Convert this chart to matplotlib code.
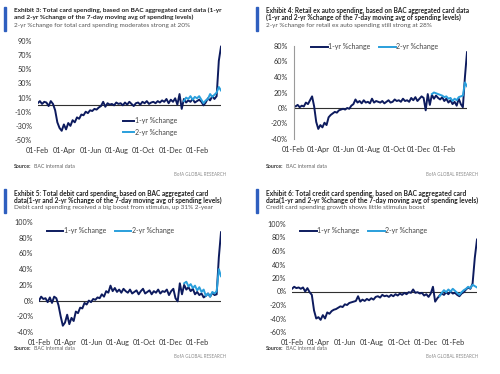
import matplotlib
matplotlib.use('Agg')
import matplotlib.pyplot as plt
import matplotlib.dates as mdates
from matplotlib import font_manager
import pandas as pd

# x categories: one value every 5 days, 01-Feb-2020 .. 27-Mar-2021
dates = pd.date_range('2020-02-01', periods=85, freq='5D')
two_yr_start = 67  # 2-yr series begins 01-Jan-2021

# Exhibit 3: total card spending
total_1yr = [2, 5, 1, 4, 3, -2, 5, 1, -8, -25, -33, -37, -28, -35, -26, -30, -22, -25, -18, -20,
             -14, -15, -10, -12, -8, -9, -6, -7, -4, -2, 4, -3, 2, 0, 1, -1, 3, 1, 2, -1,
             3, 0, 4, 1, -2, 2, 3, 0, 4, 2, 5, 1, 3, 4, 2, 5, 3, 6, 4, 8,
             2, 7, 4, 9, 0, 15, -6, 8, 3, 6, 4, 8, 3, 5, 7, 4, -1, 3, 9, 6,
             12, 8, 12, 62, 82]
total_2yr = [5, 10, 8, 12, 7, 11, 9, 12, 7, 2, 6, 8, 15, 11, 14, 17, 25, 20]

# Exhibit 4: retail ex auto
retail_1yr = [3, 2, 4, 1, 3, 2, 7, 5, 10, 15, 2, -18, -27, -22, -25, -19, -22, -12, -9, -7,
              -5, -6, -3, -2, -1, -2, 0, -1, 3, 5, 11, 7, 9, 6, 10, 7, 8, 6, 12, 7,
              9, 8, 7, 9, 6, 8, 10, 7, 8, 11, 9, 10, 8, 12, 9, 10, 8, 13, 10, 14,
              9, 12, 15, 13, -3, 18, 4, 17, 12, 16, 13, 11, 14, 9, 12, 7, 10, 5, 8, 3,
              12, 5, 1, 40, 72]
retail_2yr = [18, 20, 19, 18, 17, 16, 14, 15, 12, 13, 9, 12, 10, 14, 15, 16, 33, 28]

# Exhibit 5: debit card
debit_1yr = [0, 5, 2, 3, -2, 4, -3, 5, 3, -6, -20, -32, -28, -18, -30, -22, -26, -14, -16, -9,
             -10, -3, -5, 0, -2, 2, 1, 4, 3, 8, 5, 12, 10, 19, 12, 16, 11, 14, 10, 15,
             12, 10, 14, 9, 11, 13, 8, 12, 15, 9, 11, 13, 8, 12, 10, 14, 9, 12, 11, 14,
             7, 12, 15, 3, -1, 22, 8, 20, 14, 17, 12, 15, 8, 11, 7, 9, 4, 6, 9, 5,
             10, 7, 8, 55, 87]
debit_2yr = [22, 24, 18, 21, 16, 19, 13, 17, 11, 14, 6, 9, 5, 11, 9, 12, 40, 31]

# Exhibit 6: credit card
credit_1yr = [4, 7, 5, 6, 4, 6, 0, 5, -1, -5, -28, -40, -38, -42, -35, -40, -31, -33, -29, -27,
              -26, -24, -22, -23, -19, -20, -17, -16, -15, -14, -7, -15, -12, -14, -11, -13, -10, -12, -8, -7,
              -9, -5, -7, -6, -8, -5, -7, -4, -6, -3, -5, -2, -4, -1, -2, 3, -2, -1, -3, -2,
              -6, -4, -8, -3, 7, -15, -10, -6, -3, -5, -1, -4, 0, -3, -2, -5, -7, -3, -1, 3,
              6, 4, 12, 50, 77]
credit_2yr = [-7, -2, 2, -1, 3, 0, 4, 1, -2, -5, -1, 2, 4, 7, 5, 10, 8, 6]

tick_dates = pd.to_datetime(['2020-02-01', '2020-04-01', '2020-06-01', '2020-08-01',
                             '2020-10-01', '2020-12-01', '2021-02-01'])

titles = [
    ['Exhibit 3: Total card spending, based on BAC aggregated card data (1-yr',
     'and 2-yr %change of the 7-day moving avg of spending levels)',
     '2-yr %change for total card spending moderates strong at 20%'],
    ['Exhibit 4: Retail ex auto spending, based on BAC aggregated card data',
     '(1-yr and 2-yr %change of the 7-day moving avg of spending levels)',
     '2-yr %change for retail ex auto spending still strong at 28%'],
    ['Exhibit 5: Total debit card spending, based on BAC aggregated card',
     'data(1-yr and 2-yr %change of the 7-day moving avg of spending levels)',
     'Debit card spending received a big boost from stimulus, up 31% 2-year'],
    ['Exhibit 6: Total credit card spending, based on BAC aggregated card',
     'data(1-yr and 2-yr %change of the 7-day moving avg of spending levels)',
     'Credit card spending growth shows little stimulus boost'],
]
# pixel widths the three header lines take up in the reference
title_widths = [(211, 176, 176), (207, 192, 167), (199, 204, 198), (203, 206, 158)]

NAVY = '#0d1b5e'
LIGHT = '#2a9fdc'
BAR = '#2f5fbf'
W, H = 500, 374
TXT = ['Lato', 'DejaVu Sans']
# headers use a narrow face when one is installed
installed = {f.name for f in font_manager.fontManager.ttflist}
HEAD = (['Liberation Sans Narrow'] if 'Liberation Sans Narrow' in installed else []) + TXT

fig = plt.figure(figsize=(5, 3.74), dpi=100)
renderer = fig.canvas.get_renderer()


def px(x, y):
    return x / W, 1 - y / H


def fit_size(s, width, family=TXT, **kw):
    t = fig.text(0, 0, s, fontsize=10, family=family, **kw)
    w = t.get_window_extent(renderer).width
    t.remove()
    return 10 * width / w


def panel(rect, series1, series2, ylim, yticks, head, widths, ox, oy, legend, spine=False):
    # rect in pixels: left, top, right, bottom
    l, t, r, b = rect
    ax = fig.add_axes([l / W, 1 - b / H, (r - l) / W, (b - t) / H])
    ax.axhline(0, color='#303030', lw=0.8, zorder=1)
    l1, = ax.plot(dates, series1, color=NAVY, lw=1.4, zorder=2, label='1-yr %change')
    l2, = ax.plot(dates[two_yr_start:], series2, color=LIGHT, lw=1.4, zorder=3, label='2-yr %change')
    ax.set_xlim(dates[0], dates[-1])
    ax.set_ylim(*ylim)
    ax.set_yticks(yticks)
    ax.set_yticklabels(['%d%%' % v for v in yticks])
    ax.set_xticks(tick_dates)
    ax.xaxis.set_major_formatter(mdates.DateFormatter('%d-%b'))
    for s in ax.spines.values():
        s.set_visible(False)
    if spine:
        ax.spines['left'].set_visible(True)
        ax.spines['left'].set_color('#9a9a9a')
        ax.spines['left'].set_linewidth(0.8)
    ax.tick_params(length=0, labelsize=5.2, colors='#333333', pad=4)
    ax.tick_params(axis='x', pad=5)
    for lab in ax.get_xticklabels() + ax.get_yticklabels():
        lab.set_family(TXT)

    # header: both bold lines share one size
    fig.patches.append(plt.Rectangle(px(ox + 4, oy + 30.5), 2.2 / W, 23.5 / H,
                                     transform=fig.transFigure, color=BAR, figure=fig))
    bold = (fit_size(head[0], widths[0], HEAD, fontweight='bold') +
            fit_size(head[1], widths[1], HEAD, fontweight='bold')) / 2
    sub = fit_size(head[2], widths[2], HEAD)
    fig.text(*px(ox + 14, oy + 10.5), head[0], fontsize=bold, fontweight='bold',
             family=HEAD, color='#222222', va='center')
    fig.text(*px(ox + 14, oy + 17.5), head[1], fontsize=bold, fontweight='bold',
             family=HEAD, color='#222222', va='center')
    fig.text(*px(ox + 14, oy + 25), head[2], fontsize=sub,
             family=HEAD, color='#555555', va='center')

    # legend
    lx, ly, ncol = legend
    ax.legend(handles=[l1, l2], loc='center left', bbox_to_anchor=px(lx, ly),
              bbox_transform=fig.transFigure, ncol=ncol, frameon=False,
              prop={'family': TXT, 'size': 5}, handlelength=2.4 if ncol == 2 else 1.7,
              handletextpad=0.1, columnspacing=1.2, borderpad=0, borderaxespad=0,
              labelspacing=0.6, labelcolor='#444444')

    # footer
    src = fig.text(*px(ox + 14, oy + 166), 'Source:', fontsize=3.8, fontweight='bold',
                   family=TXT, color='#333333', va='center')
    sw = src.get_window_extent(renderer).width
    fig.text(*px(ox + 14 + sw + 2, oy + 166), 'BAC internal data', fontsize=3.8,
             family=TXT, color='#666666', va='center')
    fig.text(*px(ox + 226, oy + 174), 'BofA GLOBAL RESEARCH',
             fontsize=fit_size('BofA GLOBAL RESEARCH', 52.5), family=TXT,
             color='#8a8a8a', va='center', ha='right')
    return ax


panel((37.7, 41, 221, 140), total_1yr, total_2yr, (-50, 90), list(range(-50, 91, 20)),
      titles[0], title_widths[0], 0, 0, (122.5, 126.5, 1))
panel((293.5, 46, 467, 139), retail_1yr, retail_2yr, (-40, 80), list(range(-40, 81, 20)),
      titles[1], title_widths[1], 252, 0, (311, 47, 2), spine=True)
panel((39, 222, 221, 332), debit_1yr, debit_2yr, (-40, 100), list(range(-40, 101, 20)),
      titles[2], title_widths[2], 0, 182.5, (46.5, 230.5, 2))
panel((292, 224, 477, 332), credit_1yr, credit_2yr, (-60, 100), list(range(-60, 101, 20)),
      titles[3], title_widths[3], 252, 182.5, (300, 230.5, 2))

fig.savefig('out.png', dpi=100)
